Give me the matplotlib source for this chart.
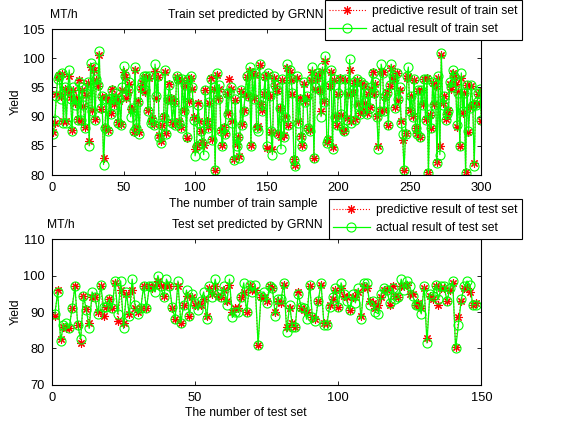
import matplotlib
matplotlib.use("Agg")
import matplotlib.pyplot as plt
import numpy as np

plt.rcParams['font.family'] = ['Liberation Sans', 'DejaVu Sans']
plt.rcParams['font.size'] = 9

# GRNN yield predictions (MT/h), training samples
train_actual = [
    87, 89.5, 93.5, 96.5, 97, 93, 97.5, 89, 95, 89,
    94.5, 98, 93, 87.5, 95, 92, 93, 89.5, 96, 89.5,
    95, 92, 88, 94, 96, 85, 99.2, 91, 98.5, 89.5,
    96.5, 95.5, 101.2, 91.5, 93.5, 81.8, 88, 93, 87.5, 93,
    90.5, 94.5, 92, 93, 94, 89, 93, 88.5, 95, 98.6,
    97, 93.5, 94.5, 96, 90, 91.5, 87.5, 98.5, 88, 92.5,
    87, 95, 96, 97, 94.5, 97, 91, 97, 89, 89.5,
    88.5, 99, 93.5, 97, 86.5, 85.5, 88.5, 90, 98, 87,
    93, 95.5, 93, 89, 92.5, 88.5, 97, 96.5, 89, 88,
    96.5, 91, 95.5, 86.5, 96.5, 92.5, 97, 95, 89.5, 83.3,
    85, 92, 89, 87.5, 85.5, 83.5, 94.5, 89, 88, 92.5,
    96.5, 86, 95, 80.8, 97.5, 93, 95.5, 87.5, 85, 88,
    87, 94, 90.5, 94, 95, 89, 82.5, 93, 85, 86.5,
    83, 94.5, 88.5, 91, 94, 97, 93.5, 98.5, 85, 97.5,
    93, 97.5, 88, 87.5, 99, 92, 91, 94, 97, 85,
    97.5, 93.5, 87.5, 83.5, 97, 95.5, 94.5, 87, 91.5, 84.5,
    96.5, 86.5, 90, 99, 88.5, 98, 96.5, 94, 82.5, 81.5,
    97, 89, 93, 86.5, 85, 96, 92.5, 93.5, 88, 87.5,
    96.5, 98.5, 83, 95, 97, 97.5, 94.5, 90, 98.5, 92.5,
    100.4, 85.5, 86, 95.5, 98, 84.5, 96.5, 90, 88.5, 94,
    96.5, 90.5, 88, 87.5, 96.5, 89.5, 94, 99.8, 89, 94.5,
    96, 89.5, 96.5, 92, 90.5, 96, 91, 95.5, 92.5, 90.5,
    94, 91.5, 95, 97.5, 94, 96, 90, 84.5, 91, 99,
    97.5, 91, 93.5, 94, 88.5, 95.5, 99, 97, 96.5, 91.5,
    97.5, 93, 95, 89, 87, 80.8, 87, 97, 98.5, 91,
    93.5, 90, 96.5, 88, 87, 94.5, 86.5, 94.5, 92, 96.5,
    89.5, 96.5, 80.3, 90.5, 88, 96, 92, 95.5, 82, 97,
    83.5, 100.9, 92, 93.5, 89.5, 90.5, 91, 96, 95, 98,
    97, 96, 88.5, 94, 85, 97.5, 91, 94, 80.3, 95.5,
    87.5, 91.5, 95.5, 92, 81.6, 92, 92.5, 94, 94.8, 89.5,
]

train_pred = [
    87.3, 89, 93.8, 96.8, 97.2, 93.5, 97.3, 89.2, 94.8, 89.3,
    94.3, 97, 93.3, 87.8, 94.5, 92.3, 93.2, 89.6, 96.3, 89.3,
    94.6, 91.8, 88.3, 93.7, 95.8, 85.8, 98.5, 91.2, 98, 89.6,
    96.2, 95.2, 100.5, 91.3, 93.3, 82.9, 88.2, 93.3, 87.8, 92.8,
    90.6, 94.8, 92.2, 92.8, 93.6, 89.1, 92.7, 88.8, 94.6, 97.7,
    96.8, 93.2, 94.3, 95.6, 91.3, 91.3, 87.4, 98, 88.3, 92.6,
    87.3, 94.7, 95.8, 96.6, 94.3, 96.8, 91.2, 96.6, 89.2, 89.8,
    88.7, 97.8, 93.2, 96.8, 86.8, 85.8, 88.6, 90.2, 97.6, 87.2,
    92.8, 95.6, 93.2, 89.1, 92.6, 88.7, 96.8, 96.2, 89.2, 88.3,
    96.2, 91.2, 95.2, 86.3, 96.2, 92.6, 96.6, 94.8, 90, 84.5,
    85.2, 92.3, 89.2, 87.6, 85.6, 85.2, 94.6, 89.2, 88.2, 92.4,
    96.6, 86.2, 94.8, 80.9, 97.2, 93.2, 94.8, 87.7, 85.2, 88.3,
    87.2, 93.8, 90.6, 96.5, 94.8, 89.2, 82.7, 92.8, 85.3, 86.6,
    83.2, 94.4, 88.7, 91.2, 93.8, 96.8, 93.6, 97.8, 85.1, 97.2,
    93.2, 97.2, 88.3, 88.4, 98.8, 92.2, 91.2, 93.8, 96.8, 84.6,
    97.2, 93.6, 87.4, 84.5, 96.7, 95.2, 94.4, 87.2, 91.4, 86.5,
    96.3, 86.8, 90.1, 98.4, 88.6, 97.6, 96.2, 93.8, 82.8, 81.7,
    96.6, 89.2, 93.2, 86.7, 85.2, 95.6, 92.6, 93.4, 88.1, 87.8,
    96.2, 97.6, 83, 94.8, 96.6, 97.2, 94.6, 91, 97.9, 92.6,
    99.5, 85.6, 86.2, 95.2, 97.6, 84.8, 96.2, 90.2, 88.6, 93.8,
    96.6, 90.3, 87.8, 87.6, 96.3, 89.8, 93.8, 98, 89.2, 94.3,
    95.8, 89.6, 96.2, 92.2, 90.6, 95.8, 91.2, 95.2, 92.4, 90.6,
    93.8, 91.6, 94.8, 97.6, 93.8, 95.6, 90.2, 85, 91, 97.8,
    97.6, 91.2, 93.4, 94.2, 88.6, 95.3, 98.4, 96.8, 96.2, 91.6,
    97.4, 92.8, 94.6, 89.2, 86, 80.9, 87.2, 96.6, 97, 91.2,
    93.6, 90.1, 96.2, 88.1, 87.2, 94.4, 86.6, 94.6, 92.1, 96.5,
    89.6, 96.6, 80.5, 90.3, 88.1, 95.8, 92.2, 95.2, 82.2, 96.6,
    85, 100.5, 92.3, 93.6, 89.6, 90.4, 91.2, 95.6, 94.8, 97.5,
    96.8, 95.6, 88.3, 94.2, 84.9, 96.7, 90.7, 94.1, 80.5, 95.5,
    87.3, 91.7, 95.2, 92.1, 82, 92.2, 92.3, 93.8, 94.3, 89.3,
]

# test samples
test_actual = [
    89.5, 95.5, 82, 86.5, 87, 85.5, 91, 97, 86.5, 82.5,
    94.5, 90.5, 85.5, 95.5, 94, 89.5, 97.5, 91.5, 91.5, 93.5,
    91, 98.5, 89.5, 98.5, 85.5, 95.5, 89, 99, 92, 89.5,
    91, 97, 91, 97, 97, 95.5, 100, 97, 94, 99,
    97, 91.5, 88, 98.5, 87, 92, 96, 89, 95, 92.5,
    90.5, 93, 95.5, 88, 97, 94, 99, 95, 94, 97,
    92, 99, 88.5, 90, 90, 94, 98, 90, 97.5, 95.5,
    97.5, 81, 94.5, 95.5, 92.5, 97, 96.5, 89, 93.5, 93.5,
    98, 84.5, 92, 86, 86, 95, 91.5, 91, 88, 97.5,
    88.5, 87.5, 93, 98, 86.5, 86.5, 91.5, 94, 96.5, 91.5,
    98, 95, 93, 90.5, 95, 92.5, 96.5, 88, 98, 98,
    92, 93, 90, 89.5, 95, 96.5, 96, 92.5, 96.5, 93.5,
    94, 99, 96, 98.5, 97, 94.5, 92, 92, 89.5, 97,
    81.5, 95, 94.5, 97.5, 93.5, 97, 97, 93, 96.5, 98.5,
    80, 86.5, 93.5, 97, 98.5, 97.5, 92, 92,
]

test_pred = [
    89, 96, 82.5, 86, 85.5, 85.5, 91, 97, 86.5, 81.5,
    94.5, 90.7, 87, 94, 94, 90, 97, 89, 91.5, 93.5,
    91, 98, 87.5, 96, 87, 95, 89.5, 96, 91, 90,
    91, 97, 91, 97, 96.5, 97, 98.5, 97, 94.5, 97.5,
    97, 91, 88, 97, 87, 92, 94.5, 89, 94, 92,
    92, 92, 93.5, 89, 96.5, 95, 97, 94.5, 94, 96,
    93, 97.5, 90, 91, 91, 94, 95.5, 90, 97, 96,
    96, 81, 94, 94, 93, 97, 96.5, 90, 93, 92.5,
    97.5, 86, 91, 87, 86, 95.5, 91, 90.5, 90, 97,
    88.5, 88, 93, 97.5, 87, 87, 92, 93.5, 96, 91.5,
    96.5, 94.5, 94, 90.5, 94, 94, 95.5, 89, 97, 96.5,
    93, 92.5, 91, 92, 94, 96, 96, 92, 97, 94.5,
    94, 97, 97, 97.5, 95, 95, 92, 92.5, 91, 96.5,
    83, 94.5, 93.5, 97, 92, 96.5, 96.5, 93, 96, 98,
    80.5, 88.5, 93, 96.5, 96.5, 95.5, 92, 92.5,
]

star = (8, 2, 0)
txt_size = 8.7


def draw_panel(ax, pred, actual, which):
    x = np.arange(1, len(actual) + 1)
    ax.plot(x, pred, color='red', linestyle=':', linewidth=0.8,
            marker=star, markersize=6, markeredgecolor='red',
            markeredgewidth=0.8, label='predictive result of %s set' % which)
    ax.plot(x, actual, color=(0, 1, 0), linestyle='-', linewidth=0.9,
            marker='o', markersize=6.5, markerfacecolor='none',
            markeredgecolor=(0, 1, 0), markeredgewidth=0.8,
            label='actual result of %s set' % which)
    ax.tick_params(direction='in', top=True, right=True, length=3,
                   width=0.6, labelsize=9.3, pad=5)
    for s in ax.spines.values():
        s.set_linewidth(0.8)
    ax.set_ylabel('Yield', fontsize=txt_size, labelpad=1)


fig = plt.figure(figsize=(5.74, 4.28), dpi=100)
ax1 = fig.add_axes([0.0906, 0.591, 0.748, 0.341])
ax2 = fig.add_axes([0.0906, 0.1005, 0.748, 0.341])

draw_panel(ax1, train_pred, train_actual, 'train')
ax1.set_xlim(0, 300)
ax1.set_ylim(80, 105)
ax1.set_xticks(np.arange(0, 301, 50))
ax1.set_yticks(np.arange(80, 106, 5))

draw_panel(ax2, test_pred, test_actual, 'test')
ax2.set_xlim(0, 150)
ax2.set_ylim(70, 110)
ax2.set_xticks(np.arange(0, 151, 50))
ax2.set_yticks(np.arange(70, 111, 10))

# titles, units and axis labels
fig.text(50 / 574, 1 - 15 / 428, 'MT/h', fontsize=txt_size, va='center', ha='left')
fig.text(246 / 574, 1 - 15 / 428, 'Train set predicted by GRNN',
         fontsize=txt_size, va='center', ha='center')
fig.text(243 / 574, 1 - 204 / 428, 'The number of train sample',
         fontsize=txt_size, va='center', ha='center')
fig.text(47 / 574, 1 - 225 / 428, 'MT/h', fontsize=txt_size, va='center', ha='left')
fig.text(247 / 574, 1 - 225 / 428, 'Test set predicted by GRNN',
         fontsize=txt_size, va='center', ha='center')
fig.text(246 / 574, 1 - 413 / 428, 'The number of test set',
         fontsize=txt_size, va='center', ha='center')

for ax, top in ((ax1, 0), (ax2, 199)):
    leg = ax.legend(loc='upper right', bbox_to_anchor=(522 / 574, 1 - top / 428),
                    bbox_transform=fig.transFigure, fontsize=txt_size, numpoints=1,
                    fancybox=False, framealpha=1, edgecolor='black',
                    handlelength=3.0, borderpad=0.4, labelspacing=0.55,
                    handletextpad=0.5, borderaxespad=0)
    leg.get_frame().set_linewidth(0.8)

fig.savefig('out.png', dpi=100)
